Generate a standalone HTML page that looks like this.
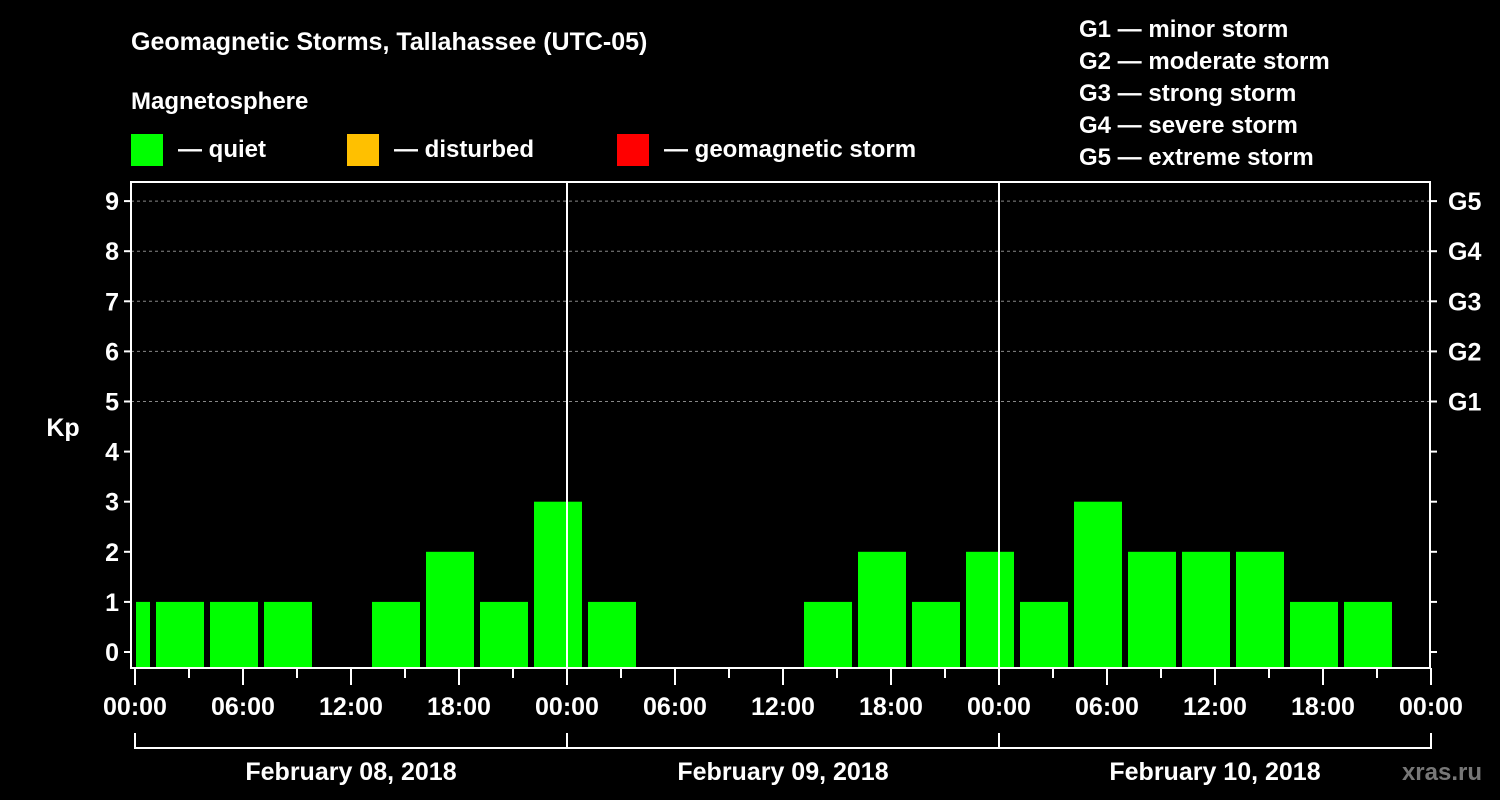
<!DOCTYPE html>
<html><head><meta charset="utf-8"><style>
html,body{margin:0;padding:0;background:#000;}
svg{display:block;font-family:"Liberation Sans",Arial,sans-serif;font-weight:bold;}
</style></head><body>
<svg id="chart" width="1500" height="800" viewBox="0 0 1500 800" xmlns="http://www.w3.org/2000/svg">
<rect width="1500" height="800" fill="#000"/>
<text x="131" y="50" fill="#fff" font-size="25">Geomagnetic Storms, Tallahassee (UTC-05)</text>
<text x="131" y="109" fill="#fff" font-size="24">Magnetosphere</text>
<g><rect x="131" y="134" width="32" height="32" fill="#00ff00"/><text x="178" y="157" fill="#fff" font-size="24">— quiet</text></g>
<g><rect x="347" y="134" width="32" height="32" fill="#ffc000"/><text x="394" y="157" fill="#fff" font-size="24">— disturbed</text></g>
<g><rect x="617" y="134" width="32" height="32" fill="#ff0000"/><text x="664" y="157" fill="#fff" font-size="24">— geomagnetic storm</text></g>
<g fill="#fff" font-size="24">
<text x="1079" y="37">G1 — minor storm</text>
<text x="1079" y="69">G2 — moderate storm</text>
<text x="1079" y="101">G3 — strong storm</text>
<text x="1079" y="133">G4 — severe storm</text>
<text x="1079" y="165">G5 — extreme storm</text>
</g>
<text x="63" y="436" fill="#fff" font-size="25" text-anchor="middle">Kp</text>
<g id="grid"></g>
<g id="bars"></g>
<g id="axes"></g>
<text x="1482" y="780" fill="#777" font-size="24" text-anchor="end">xras.ru</text>
</svg>
<script>
const kpValues=[1,1,1,1,0,1,2,1,3,1,0,0,0,1,2,1,2,1,3,2,2,2,1,1,0];
const xTickLabels=["00:00","06:00","12:00","18:00","00:00","06:00","12:00","18:00","00:00","06:00","12:00","18:00","00:00"];
const dayLabels=["February 08, 2018","February 09, 2018","February 10, 2018"];
const yTickLabels=[0,1,2,3,4,5,6,7,8,9];
const gLabels=["G1","G2","G3","G4","G5"];
const NS="http://www.w3.org/2000/svg";
const X0=135,PXH=18,PL=131,PR=1430,PT=182,PB=668;
const xs=h=>X0+h*PXH;
const ys=v=>652-v*50.1;
function mk(tag,attrs,parent,txt){const e=document.createElementNS(NS,tag);for(const k in attrs)e.setAttribute(k,attrs[k]);if(txt!==undefined)e.textContent=txt;parent.appendChild(e);return e;}
const grid=document.getElementById('grid'),bars=document.getElementById('bars'),axes=document.getElementById('axes');
for(let v=5;v<=9;v++){const l=mk('line',{x1:PL,x2:PR,y1:ys(v),y2:ys(v),stroke:'#888','stroke-dasharray':'3,3','stroke-width':1},grid);

}
kpValues.forEach((v,i)=>{if(v<=0)return;
let s=-2+i*3,e=s+3;let x1=Math.max(xs(s)+3,X0+1),x2=Math.min(xs(e)-3,PR);
const c=v>=5?'#ff0000':(v>=4?'#ffc000':'#00ff00');
const r=mk('rect',{x:x1,y:ys(v),width:x2-x1,height:PB-ys(v),fill:c},bars);

});
const frame=mk('rect',{x:PL,y:PT,width:PR-PL,height:PB-PT,fill:'none',stroke:'#fff','stroke-width':2},axes);


[1,2].forEach(d=>{const l=mk('line',{x1:xs(24*d),x2:xs(24*d),y1:PT,y2:PB,stroke:'#fff','stroke-width':2},axes);

});
yTickLabels.forEach(v=>{const y=ys(v);
mk('line',{x1:PL-7,x2:PL,y1:y,y2:y,stroke:'#fff','stroke-width':2},axes);
mk('line',{x1:PR,x2:PR+7,y1:y,y2:y,stroke:'#fff','stroke-width':2},axes);
const t=mk('text',{x:PL-12,y:y+9,fill:'#fff','font-size':25,'text-anchor':'end'},axes,String(v));

});
gLabels.forEach((g,i)=>{const t=mk('text',{x:1448,y:ys(5+i)+9,fill:'#fff','font-size':25},axes,g);

});
for(let h=0;h<=72;h+=3){const major=h%6===0;mk('line',{x1:xs(h),x2:xs(h),y1:PB,y2:major?685:678,stroke:'#fff','stroke-width':2},axes);}
xTickLabels.forEach((s,i)=>{const t=mk('text',{x:xs(i*6),y:715,fill:'#fff','font-size':25,'text-anchor':'middle'},axes,s);

});
mk('polyline',{points:`${xs(0)},733 ${xs(0)},748 ${xs(72)},748 ${xs(72)},733`,fill:'none',stroke:'#fff','stroke-width':2},axes);
[1,2].forEach(d=>mk('line',{x1:xs(24*d),x2:xs(24*d),y1:733,y2:748,stroke:'#fff','stroke-width':2},axes));
dayLabels.forEach((s,i)=>{const t=mk('text',{x:xs(24*i+12),y:780,fill:'#fff','font-size':25,'text-anchor':'middle'},axes,s);

});
</script>
</body></html>
